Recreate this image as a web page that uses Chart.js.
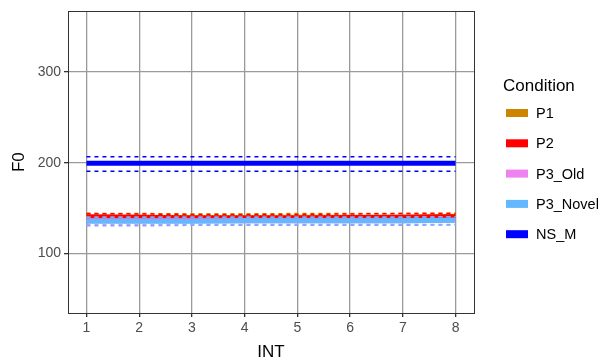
<!DOCTYPE html>
<html><head><meta charset="utf-8">
<script src="https://cdn.jsdelivr.net/npm/chart.js@4"></script>
<style>html,body{margin:0;padding:0;background:#fff}#wrap{width:604px;height:363px}</style>
</head><body><div id="wrap"><canvas id="c" width="604" height="363"></canvas></div>
<script>
const intervals = [1,2,3,4,5,6,7,8];
const conditions = ["P1","P2","P3_Old","P3_Novel","NS_M"];
const colors = ["#CD8500","#FF0000","#EE82EE","#63B8FF","#0000FF"];
const p1Mean = [140,140,139.5,139.5,140,140,140,141];
const p1Upper = [144,144,143.5,143.5,144,144,144,144.5];
const p1Lower = [135.5,135.5,135,135,135.5,135.5,135.5,136];
const p2Mean = [140.5,140,139,139,139,139.5,140,140.5];
const p2Upper = [144,143.5,143,143,143,143.5,144,144];
const p2Lower = [135,135,135,135,135,135,135,135.5];
const p3OldMean = [136,136,136,136,136,136,136,136.5];
const p3OldUpper = [140,140,140,140,140,140,140,140.5];
const p3OldLower = [131.5,131.5,132,132,132,132,132,132];
const p3NovelMean = [135.5,135.5,135.5,136,136,136,136,136.5];
const p3NovelUpper = [140,140,140,140,140,140,140,140.5];
const p3NovelLower = [130.5,130.5,131,131,131,131,131,131.5];
const nsMean = [199.5,199.5,199.5,199.5,199.5,199.5,199.5,199.5];
const nsUpper = [206.5,206.5,206.5,206.5,206.5,206.5,206.5,206.5];
const nsLower = [190.5,190.5,190.5,190.5,190.5,190.5,190.5,190.5];
const xTicks = [1,2,3,4,5,6,7,8];
const yTicks = [100,200,300];

const series = [
  [p1Mean,p1Upper,p1Lower],
  [p2Mean,p2Upper,p2Lower],
  [p3OldMean,p3OldUpper,p3OldLower],
  [p3NovelMean,p3NovelUpper,p3NovelLower],
  [nsMean,nsUpper,nsLower]
];
const pts = arr => arr.map((v,i)=>({x:intervals[i],y:v}));
const datasets = [];
series.forEach((s,k)=>{
  datasets.push({label:conditions[k]+" upper",data:pts(s[1]),borderColor:colors[k],borderWidth:1.5,borderDash:[4,4],pointRadius:0,fill:false,tension:0,order:10-2*k});
  datasets.push({label:conditions[k]+" lower",data:pts(s[2]),borderColor:colors[k],borderWidth:1.5,borderDash:[4,4],pointRadius:0,fill:false,tension:0,order:10-2*k});
  datasets.push({label:conditions[k],data:pts(s[0]),borderColor:colors[k],borderWidth:5,pointRadius:0,fill:false,tension:0,order:9-2*k});
});
const FONT='"Liberation Sans", Arial, sans-serif';
const panel = {
  id:'panel',
  afterDatasetsDraw(chart){
    const {ctx,chartArea:a}=chart;
    ctx.save();
    ctx.strokeStyle='#333333';ctx.lineWidth=1;
    ctx.strokeRect(Math.round(a.left)+0.5,Math.round(a.top)+0.5,Math.round(a.right-a.left),Math.round(a.bottom-a.top));
    ctx.restore();
  },
  afterDraw(chart){
    const ctx=chart.ctx;
    ctx.save();
    ctx.fillStyle='#000';ctx.textBaseline='middle';ctx.textAlign='left';
    ctx.font='17px '+FONT;
    ctx.fillText('Condition',503,86);
    ctx.font='14.5px '+FONT;
    conditions.forEach((c,i)=>{
      const y=113+i*30.3;
      ctx.fillStyle=colors[i];
      ctx.fillRect(506,y-4,22,8);
      ctx.fillStyle='#000';
      ctx.fillText(c,536,y+1);
    });
    ctx.restore();
  }
};

new Chart(document.getElementById('c'),{
  type:'line',
  data:{datasets},
  plugins:[panel],
  options:{
    responsive:false,animation:false,
    layout:{padding:{left:9,top:9,right:130,bottom:0}},
    plugins:{legend:{display:false},tooltip:{enabled:false}},
    scales:{
      x:{type:'linear',min:0.65,max:8.35,
        afterBuildTicks(s){s.ticks=xTicks.map(v=>({value:v}));},
        afterFit(s){s.height=50;},
        grid:{color:'#9A9A9A',lineWidth:1.3,tickLength:4,tickColor:'#333'},
        border:{display:false},
        ticks:{color:'#4D4D4D',font:{family:FONT,size:14},padding:3,maxRotation:0},
        title:{display:true,text:'INT',color:'#000',font:{family:FONT,size:17},padding:{top:0,bottom:0}}
      },
      y:{type:'linear',min:34.4,max:366.7,
        afterBuildTicks(s){s.ticks=yTicks.map(v=>({value:v}));},
        afterFit(s){s.width=59;},
        grid:{color:'#9A9A9A',lineWidth:1.3,tickLength:4,tickColor:'#333'},
        border:{display:false},
        ticks:{color:'#4D4D4D',font:{family:FONT,size:14},padding:3},
        title:{display:true,text:'F0',color:'#000',font:{family:FONT,size:17},padding:{top:0,bottom:0}}
      }
    }
  }
});
</script></body></html>
